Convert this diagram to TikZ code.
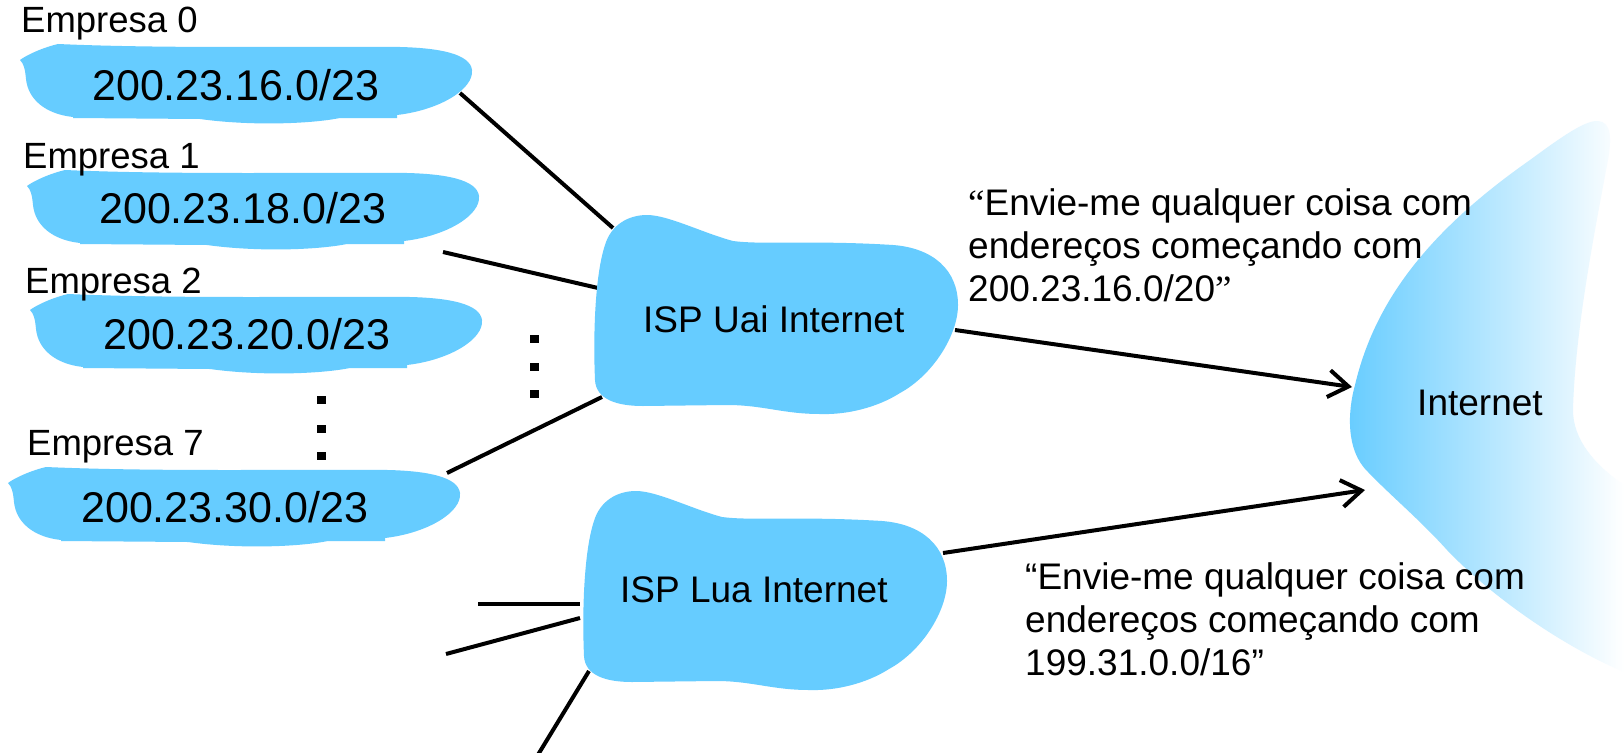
\documentclass[tikz,border=0pt]{standalone}
\usepackage{fontspec}
\setmainfont{Liberation Sans}
\newfontfamily\qserif{Liberation Serif}
\usetikzlibrary{arrows.meta}
\definecolor{cloudblue}{RGB}{102,204,255}
\begin{document}
\begin{tikzpicture}[x=1pt,y=-1pt,
  link/.style={line width=4pt},
  arr/.style={line width=4pt,-{Straight Barb[length=20pt,width=27pt]}},
  lbl/.style={inner sep=0pt,anchor=base west,font=\fontsize{36.5}{43}\selectfont},
  addr/.style={inner sep=0pt,anchor=base west,font=\fontsize{43}{48}\selectfont},
  big/.style={inner sep=0pt,anchor=base west,font=\fontsize{37}{43}\selectfont},
  dotsq/.style={fill=black,minimum width=9pt,minimum height=8.5pt,inner sep=0pt},
  flatblob/.pic={
    \fill[cloudblue] (0,16) .. controls (8,10) and (25,3) .. (38,0)
      .. controls (150,5) and (300,2) .. (380,3)
      .. controls (420,4) and (450,10) .. (452,26)
      .. controls (454,45) and (420,66) .. (377,71)
      -- (377,74) -- (320,74)
      .. controls (290,80) and (230,82) .. (180,75)
      -- (53,74) -- (53,73)
      .. controls (25,70) and (8,55) .. (6,35)
      .. controls (5,25) and (4,20) .. (0,16) -- cycle;
  },
  ispcloud/.pic={
    \fill[cloudblue] (54,0) .. controls (75,0) and (110,18) .. (140,26)
      .. controls (170,30) and (220,25) .. (300,30)
      .. controls (340,33) and (365,55) .. (365,90)
      .. controls (365,120) and (340,160) .. (307,178)
      .. controls (285,192) and (255,200) .. (227,199)
      .. controls (190,199) and (170,190) .. (134,190)
      -- (50,191)
      .. controls (25,191) and (3,185) .. (2,165)
      .. controls (0,120) and (2,60) .. (12,30)
      .. controls (18,10) and (35,0) .. (54,0) -- cycle;
  }
]
\fill[white] (0,0) rectangle (1624,752);
\useasboundingbox (0,0) rectangle (1624,752);

% Internet shape
\shade[left color=cloudblue, right color=white]
  (1598,121) .. controls (1612,122) and (1612,140) .. (1607,165)
  .. controls (1595,230) and (1575,330) .. (1573,410)
  .. controls (1573,440) and (1595,465) .. (1624,485)
  -- (1624,672)
  .. controls (1560,645) and (1490,595) .. (1447,550)
  .. controls (1420,520) and (1390,495) .. (1368,472)
  .. controls (1345,450) and (1348,410) .. (1355,385)
  .. controls (1375,300) and (1430,230) .. (1530,160)
  .. controls (1560,138) and (1585,120) .. (1598,121) -- cycle;
\node[big] (inet) at (1417,415) {Internet};

% attachment points
\coordinate (b0e) at (460,93);
\coordinate (b1e) at (443,252);
\coordinate (b7e) at (447,473);
\coordinate (u0) at (613,228);
\coordinate (u1) at (598,288);
\coordinate (u7) at (602,397);
\coordinate (uout) at (955,330);
\coordinate (iin1) at (1352,387);
\coordinate (lout) at (943,553);
\coordinate (iin2) at (1365,490);
\coordinate (l1) at (580,604);
\coordinate (l2) at (580,618);
\coordinate (l3) at (589,671);
\coordinate (f1) at (478,604);
\coordinate (f2) at (446,654);
\coordinate (f3) at (536,758);

% links
\draw[link] (b0e) -- (u0);
\draw[link] (b1e) -- (u1);
\draw[link] (b7e) -- (u7);
\draw[link] (f1) -- (l1);
\draw[link] (f2) -- (l2);
\draw[link] (l3) -- (f3);

% company blobs
\pic at (20,44) {flatblob};
\pic at (27,170) {flatblob};
\pic at (30,294) {flatblob};
\pic at (8,467) {flatblob};

\node[lbl] (e0) at (21,33) {Empresa 0};
\node[lbl] (e1) at (23,168) {Empresa 1};
\node[lbl] (e2) at (25,293) {Empresa 2};
\node[lbl] (e7) at (27,455) {Empresa 7};

\node[addr] (a0) at (92,100) {200.23.16.0/23};
\node[addr] (a1) at (99,223) {200.23.18.0/23};
\node[addr] (a2) at (103,349) {200.23.20.0/23};
\node[addr] (a7) at (81,522) {200.23.30.0/23};

% dots
\node[dotsq] (d1) at (321,400) {};
\node[dotsq] (d2) at (321,429) {};
\node[dotsq] (d3) at (321,456) {};
\node[dotsq] (d4) at (534,339) {};
\node[dotsq] (d5) at (534,367) {};
\node[dotsq] (d6) at (534,394) {};

% ISP clouds
\pic at (593,215) {ispcloud};
\pic at (582,491) {ispcloud};
\node[big] (uai) at (643,332) {ISP Uai Internet};
\node[big] (lua) at (620,602) {ISP Lua Internet};

% arrows
\draw[arr] (uout) -- (iin1);
\draw[arr] (lout) -- (iin2);

% quotes (base anchor = last line)
\node[big,align=left] (q1) at (968,301) {{\qserif“}Envie-me qualquer coisa com\\endereços começando com\\200.23.16.0/20{\qserif”}};
\node[big,align=left] (q2) at (1025,675) {“Envie-me qualquer coisa com\\endereços começando com\\199.31.0.0/16”};
\end{tikzpicture}
\end{document}
